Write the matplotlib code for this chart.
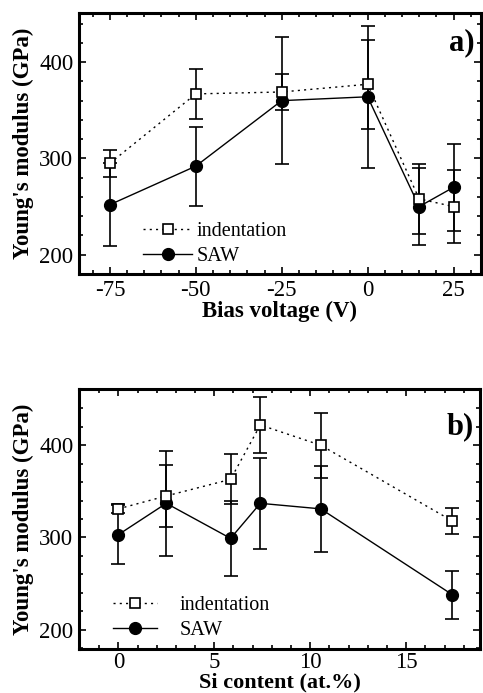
import matplotlib
matplotlib.use("Agg")
import matplotlib.pyplot as plt
from matplotlib.ticker import MultipleLocator

plt.rcParams['font.family'] = ['Liberation Serif', 'DejaVu Serif']
plt.rcParams['axes.unicode_minus'] = False

# panel a: bias voltage series
bias = [-75, -50, -25, 0, 15, 25]
ind_a = [295, 367, 369, 377, 258, 250]
ind_a_err = [14, 26, 19, 46, 36, 38]
saw_a = [252, 292, 360, 364, 250, 270]
saw_a_err = [43, 41, 66, 74, 40, 45]

# panel b: Si content series
si = [0, 2.5, 5.85, 7.4, 10.55, 17.4]
ind_b = [331, 345, 363, 422, 400, 318]
ind_b_err = [5, 34, 27, 30, 35, 14]
saw_b = [303, 337, 299, 337, 331, 238]
saw_b_err = [32, 57, 41, 49, 47, 26]

W, H = 483, 693
fig = plt.figure(figsize=(W / 100, H / 100), dpi=100)


def style_axes(ax, xmajor, xminor):
    ax.xaxis.set_major_locator(MultipleLocator(xmajor))
    ax.xaxis.set_minor_locator(MultipleLocator(xminor))
    ax.yaxis.set_major_locator(MultipleLocator(100))
    ax.yaxis.set_minor_locator(MultipleLocator(20))
    ax.tick_params(which='both', direction='in', top=True, right=True,
                   width=1.2, labelsize=16.5, pad=4)
    ax.tick_params(which='major', length=5)
    ax.tick_params(which='minor', length=3)
    for s in ax.spines.values():
        s.set_linewidth(2.2)
    ax.set_ylabel("Young's modulus (GPa)", fontsize=16.5, fontweight='bold',
                  labelpad=4)


def draw(ax, x, ind, ind_err, saw, saw_err):
    ax.errorbar(x, ind, yerr=ind_err, color='black', linestyle=(0, (1.5, 3)),
                lw=1, marker='s', ms=7, mfc='white', mec='black', mew=1.2,
                capsize=5, elinewidth=1.2, capthick=1.2, label='indentation',
                zorder=3)
    ax.errorbar(x, saw, yerr=saw_err, color='black', linestyle='-', lw=1,
                marker='o', ms=8.5, mfc='black', mec='black',
                capsize=5, elinewidth=1.2, capthick=1.2, label='SAW', zorder=2)


ax1 = fig.add_axes([79 / W, 1 - 274 / H, 402 / W, 261 / H])
draw(ax1, bias, ind_a, ind_a_err, saw_a, saw_a_err)
ax1.set_xlim(-84, 33)
ax1.set_ylim(180, 451)
style_axes(ax1, 25, 5)
ax1.set_xlabel("Bias voltage (V)", fontsize=16.5, fontweight='bold', labelpad=0)
ax1.text(0.985, 0.885, "a)", transform=ax1.transAxes, ha='right', va='center',
         fontsize=22, fontweight='bold')
h, l = ax1.get_legend_handles_labels()
ax1.legend([hh[0] for hh in h], l, loc='lower left', bbox_to_anchor=(0.125, -0.025),
           frameon=False, fontsize=14.5, handlelength=2.4, handletextpad=0.25,
           labelspacing=0.3, borderaxespad=0.3)

ax2 = fig.add_axes([79 / W, 1 - 649 / H, 401 / W, 260 / H])
draw(ax2, si, ind_b, ind_b_err, saw_b, saw_b_err)
ax2.set_xlim(-2.05, 18.85)
ax2.set_ylim(179, 461)
style_axes(ax2, 5, 1)
ax2.tick_params(axis='x', pad=2)
ax2.set_xlabel("Si content (at.%)", fontsize=16, fontweight='bold', labelpad=0)
ax2.text(0.985, 0.855, "b)", transform=ax2.transAxes, ha='right', va='center',
         fontsize=22, fontweight='bold')
h, l = ax2.get_legend_handles_labels()
ax2.legend([hh[0] for hh in h], l, loc='lower left', bbox_to_anchor=(0.05, -0.02),
           frameon=False, fontsize=14.5, handlelength=2.2, handletextpad=1.1,
           labelspacing=0.3, borderaxespad=0.3)

fig.savefig("out.png", dpi=100)
